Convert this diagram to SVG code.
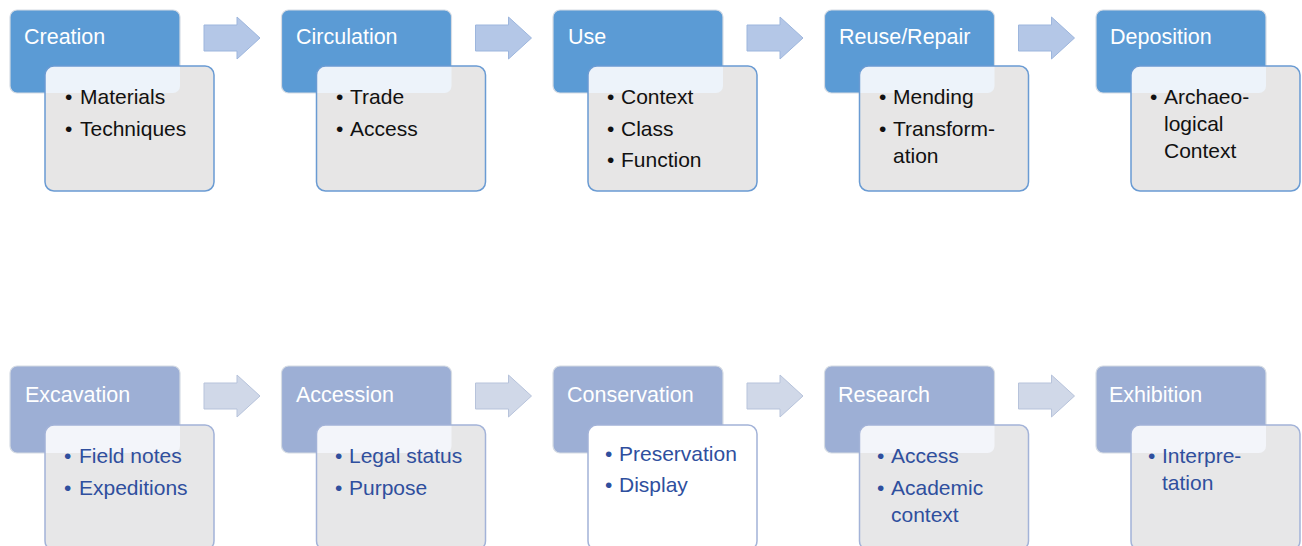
<svg xmlns="http://www.w3.org/2000/svg" width="1302" height="546" viewBox="0 0 1302 546">
<defs>
<style>
.bg{fill:#ffffff}
.h1{fill:#5B9BD5;stroke:#D6DCE4;stroke-width:1.2}
.h2{fill:#9DAFD5;stroke:#D6DCE4;stroke-width:1.2}
.c1{fill:#E7E6E6}
.c2{fill:#E7E7E8}
.cw{fill:#FFFFFF}
.o1{fill:#EDF3FA}
.o2{fill:#F3F5FA}
.s1{fill:none;stroke:#6A9BD3;stroke-width:1.5}
.s2{fill:none;stroke:#A3B3D8;stroke-width:1.5}
.ht{font-family:"Liberation Sans",Arial,sans-serif;font-size:21.5px;fill:#ffffff}
.bt{font-family:"Liberation Sans",Arial,sans-serif;font-size:21px;fill:#111111}
.bt2{font-family:"Liberation Sans",Arial,sans-serif;font-size:21px;fill:#2F4F9E}
.a1{fill:#B4C7E7;stroke:#9DB6DD;stroke-width:1}
.a2{fill:#D0D8E8;stroke:#B7C3DB;stroke-width:1}
</style>
</defs>
<rect class="bg" x="0" y="0" width="1302" height="546"/>

<g id="connectors">
<polygon class="a1" points="204,25 237,25 237,17 260,38 237,59 237,51 204,51"/>
<polygon class="a1" points="475.5,25 508.5,25 508.5,17 531.5,38 508.5,59 508.5,51 475.5,51"/>
<polygon class="a1" points="747,25 780,25 780,17 803,38 780,59 780,51 747,51"/>
<polygon class="a1" points="1018.5,25 1051.5,25 1051.5,17 1074.5,38 1051.5,59 1051.5,51 1018.5,51"/>
<polygon class="a2" points="204,383 237,383 237,375 260,396 237,417 237,409 204,409"/>
<polygon class="a2" points="475.5,383 508.5,383 508.5,375 531.5,396 508.5,417 508.5,409 475.5,409"/>
<polygon class="a2" points="747,383 780,383 780,375 803,396 780,417 780,409 747,409"/>
<polygon class="a2" points="1018.5,383 1051.5,383 1051.5,375 1074.5,396 1051.5,417 1051.5,409 1018.5,409"/>
</g>

<!-- Top row -->
<g id="creation">
<rect class="h1" x="10" y="10" width="170" height="83" rx="7"/>
<rect class="c1" x="45" y="66" width="169" height="125" rx="9"/>
<path class="o1" d="M45,75 a9,9 0 0 1 9,-9 H180 V86 a7,7 0 0 1 -7,7 H45 Z"/>
<rect class="s1" x="45" y="66" width="169" height="125" rx="9"/>
<text class="ht" x="24" y="44">Creation</text>
<text class="bt" x="65" y="104">•</text><text class="bt" x="80" y="104">Materials</text>
<text class="bt" x="65" y="136">•</text><text class="bt" x="80" y="136">Techniques</text>
</g>

<g id="circulation">
<rect class="h1" x="281.5" y="10" width="170" height="83" rx="7"/>
<rect class="c1" x="316.5" y="66" width="169" height="125" rx="9"/>
<path class="o1" d="M316.5,75 a9,9 0 0 1 9,-9 H451.5 V86 a7,7 0 0 1 -7,7 H316.5 Z"/>
<rect class="s1" x="316.5" y="66" width="169" height="125" rx="9"/>
<text class="ht" x="296" y="44">Circulation</text>
<text class="bt" x="336" y="104">•</text><text class="bt" x="350" y="104">Trade</text>
<text class="bt" x="336" y="136">•</text><text class="bt" x="350" y="136">Access</text>
</g>

<g id="use">
<rect class="h1" x="553" y="10" width="170" height="83" rx="7"/>
<rect class="c1" x="588" y="66" width="169" height="125" rx="9"/>
<path class="o1" d="M588,75 a9,9 0 0 1 9,-9 H723 V86 a7,7 0 0 1 -7,7 H588 Z"/>
<rect class="s1" x="588" y="66" width="169" height="125" rx="9"/>
<text class="ht" x="568" y="44">Use</text>
<text class="bt" x="607" y="104">•</text><text class="bt" x="621" y="104">Context</text>
<text class="bt" x="607" y="136">•</text><text class="bt" x="621" y="136">Class</text>
<text class="bt" x="607" y="167">•</text><text class="bt" x="621" y="167">Function</text>
</g>

<g id="reuse">
<rect class="h1" x="824.5" y="10" width="170" height="83" rx="7"/>
<rect class="c1" x="859.5" y="66" width="169" height="125" rx="9"/>
<path class="o1" d="M859.5,75 a9,9 0 0 1 9,-9 H994.5 V86 a7,7 0 0 1 -7,7 H859.5 Z"/>
<rect class="s1" x="859.5" y="66" width="169" height="125" rx="9"/>
<text class="ht" x="839" y="44">Reuse/Repair</text>
<text class="bt" x="879" y="104">•</text><text class="bt" x="893" y="104">Mending</text>
<text class="bt" x="879" y="136">•</text><text class="bt" x="893" y="136">Transform-</text>
<text class="bt" x="893" y="163">ation</text>
</g>

<g id="deposition">
<rect class="h1" x="1096" y="10" width="170" height="83" rx="7"/>
<rect class="c1" x="1131" y="66" width="169" height="125" rx="9"/>
<path class="o1" d="M1131,75 a9,9 0 0 1 9,-9 H1266 V86 a7,7 0 0 1 -7,7 H1131 Z"/>
<rect class="s1" x="1131" y="66" width="169" height="125" rx="9"/>
<text class="ht" x="1110" y="44">Deposition</text>
<text class="bt" x="1150" y="104">•</text><text class="bt" x="1164" y="104">Archaeo-</text>
<text class="bt" x="1164" y="131">logical</text>
<text class="bt" x="1164" y="158">Context</text>
</g>

<!-- Bottom row -->
<g id="excavation">
<rect class="h2" x="10" y="366" width="170" height="87" rx="7"/>
<rect class="c2" x="45" y="425" width="169" height="125" rx="9"/>
<path class="o2" d="M45,434 a9,9 0 0 1 9,-9 H180 V446 a7,7 0 0 1 -7,7 H45 Z"/>
<rect class="s2" x="45" y="425" width="169" height="125" rx="9"/>
<text class="ht" x="25" y="402">Excavation</text>
<text class="bt2" x="64" y="463">•</text><text class="bt2" x="79" y="463">Field notes</text>
<text class="bt2" x="64" y="495">•</text><text class="bt2" x="79" y="495">Expeditions</text>
</g>

<g id="accession">
<rect class="h2" x="281.5" y="366" width="170" height="87" rx="7"/>
<rect class="c2" x="316.5" y="425" width="169" height="125" rx="9"/>
<path class="o2" d="M316.5,434 a9,9 0 0 1 9,-9 H451.5 V446 a7,7 0 0 1 -7,7 H316.5 Z"/>
<rect class="s2" x="316.5" y="425" width="169" height="125" rx="9"/>
<text class="ht" x="296" y="402">Accession</text>
<text class="bt2" x="335" y="463">•</text><text class="bt2" x="349" y="463">Legal status</text>
<text class="bt2" x="335" y="495">•</text><text class="bt2" x="349" y="495">Purpose</text>
</g>

<g id="conservation">
<rect class="h2" x="553" y="366" width="170" height="87" rx="7"/>
<rect class="cw" x="588" y="425" width="169" height="125" rx="9"/>
<rect class="s2" x="588" y="425" width="169" height="125" rx="9"/>
<text class="ht" x="567" y="402">Conservation</text>
<text class="bt2" x="605" y="461">•</text><text class="bt2" x="619" y="461">Preservation</text>
<text class="bt2" x="605" y="492">•</text><text class="bt2" x="619" y="492">Display</text>
</g>

<g id="research">
<rect class="h2" x="824.5" y="366" width="170" height="87" rx="7"/>
<rect class="c2" x="859.5" y="425" width="169" height="125" rx="9"/>
<path class="o2" d="M859.5,434 a9,9 0 0 1 9,-9 H994.5 V446 a7,7 0 0 1 -7,7 H859.5 Z"/>
<rect class="s2" x="859.5" y="425" width="169" height="125" rx="9"/>
<text class="ht" x="838" y="402">Research</text>
<text class="bt2" x="877" y="463">•</text><text class="bt2" x="891" y="463">Access</text>
<text class="bt2" x="877" y="495">•</text><text class="bt2" x="891" y="495">Academic</text>
<text class="bt2" x="891" y="522">context</text>
</g>

<g id="exhibition">
<rect class="h2" x="1096" y="366" width="170" height="87" rx="7"/>
<rect class="c2" x="1131" y="425" width="169" height="125" rx="9"/>
<path class="o2" d="M1131,434 a9,9 0 0 1 9,-9 H1266 V446 a7,7 0 0 1 -7,7 H1131 Z"/>
<rect class="s2" x="1131" y="425" width="169" height="125" rx="9"/>
<text class="ht" x="1109" y="402">Exhibition</text>
<text class="bt2" x="1148" y="463">•</text><text class="bt2" x="1162" y="463">Interpre-</text>
<text class="bt2" x="1162" y="490">tation</text>
</g>
</svg>
